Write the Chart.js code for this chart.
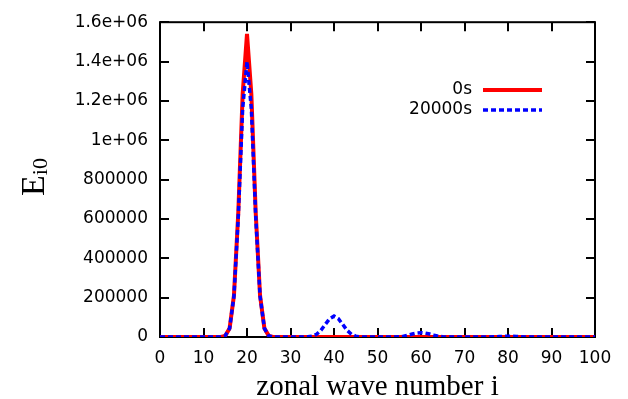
<!DOCTYPE html>
<html>
<head>
<meta charset="utf-8">
<script src="https://cdn.jsdelivr.net/npm/chart.js@4.4.1/dist/chart.umd.min.js"></script>
<style>
  html, body { margin: 0; padding: 0; background: #fff; }
  #wrap { width: 628px; height: 399px; }
</style>
</head>
<body>
<div id="wrap"><canvas id="spectrum" width="628" height="399"></canvas></div>
<script>
// zonal wave number i
const waveNumbers = [
  0, 1, 2, 3, 4, 5, 6, 7, 8, 9,
  10, 11, 12, 13, 14, 15, 16, 17, 18, 19,
  20, 21, 22, 23, 24, 25, 26, 27, 28, 29,
  30, 31, 32, 33, 34, 35, 36, 37, 38, 39,
  40, 41, 42, 43, 44, 45, 46, 47, 48, 49,
  50, 51, 52, 53, 54, 55, 56, 57, 58, 59,
  60, 61, 62, 63, 64, 65, 66, 67, 68, 69,
  70, 71, 72, 73, 74, 75, 76, 77, 78, 79,
  80, 81, 82, 83, 84, 85, 86, 87, 88, 89,
  90, 91, 92, 93, 94, 95, 96, 97, 98, 99,
  100
];

// E_i0 at t = 0s
const energy0s = [
  0, 0, 0, 0, 0, 0, 0, 0, 0, 0,
  0, 0, 0, 0, 0, 6000, 44000, 211000, 633000, 1234000,
  1540000, 1234000, 633000, 211000, 44000, 6000, 0, 0, 0, 0,
  0, 0, 0, 0, 0, 0, 0, 0, 0, 0,
  0, 0, 0, 0, 0, 0, 0, 0, 0, 0,
  0, 0, 0, 0, 0, 0, 0, 0, 0, 0,
  0, 0, 0, 0, 0, 0, 0, 0, 0, 0,
  0, 0, 0, 0, 0, 0, 0, 0, 0, 0,
  0, 0, 0, 0, 0, 0, 0, 0, 0, 0,
  0, 0, 0, 0, 0, 0, 0, 0, 0, 0,
  0
];

// E_i0 at t = 20000s
const energy20000s = [
  0, 0, 0, 0, 0, 0, 0, 0, 0, 0,
  0, 0, 0, 0, 0, 6000, 44000, 208000, 615000, 1160000,
  1400000, 1160000, 615000, 208000, 44000, 6000, 0, 0, 0, 0,
  0, 0, 0, 0, 1000, 4500, 14000, 34000, 64000, 93000,
  106000, 93000, 64000, 34000, 14000, 4500, 1000, 0, 0, 0,
  0, 0, 0, 0, 0, 1000, 4000, 9000, 15000, 20000,
  22000, 20000, 15000, 9000, 4000, 1000, 0, 0, 0, 0,
  0, 0, 0, 0, 0, 0, 0, 1000, 2500, 3500,
  4000, 3500, 2500, 1000, 0, 0, 0, 0, 0, 0,
  0, 0, 0, 0, 0, 0, 0, 0, 0, 0,
  0
];

const seriesLabels = ['0s', '20000s'];
const xTicks = [0, 10, 20, 30, 40, 50, 60, 70, 80, 90, 100];
const yTicks = [0, 200000, 400000, 600000, 800000, 1000000, 1200000, 1400000, 1600000];

const tickFont = { family: 'DejaVu Sans', size: 17 };

function toPoints(values) {
    return waveNumbers.map((i, k) => ({ x: i, y: values[k] }));
}

// gnuplot style: inward ticks on all four sides, drawn under the data
const framePlugin = {
    id: 'frame',
    beforeDatasetsDraw(chart) {
        const { ctx, chartArea: a, scales: { x, y } } = chart;
        ctx.save();
        ctx.strokeStyle = '#000';
        ctx.lineWidth = 2;
        ctx.strokeRect(a.left, a.top, a.right - a.left, a.bottom - a.top);
        ctx.beginPath();
        x.ticks.forEach(t => {
            const px = Math.round(x.getPixelForValue(t.value));
            ctx.moveTo(px, a.bottom); ctx.lineTo(px, a.bottom - 9);
            ctx.moveTo(px, a.top); ctx.lineTo(px, a.top + 9);
        });
        y.ticks.forEach(t => {
            const py = Math.round(y.getPixelForValue(t.value));
            ctx.moveTo(a.left, py); ctx.lineTo(a.left + 9, py);
            ctx.moveTo(a.right, py); ctx.lineTo(a.right - 9, py);
        });
        ctx.stroke();
        ctx.restore();
    }
};

// y title E_i0 with a real subscript, plus the key in the upper right
const labelPlugin = {
    id: 'labels',
    afterDraw(chart) {
        const ctx = chart.ctx;
        ctx.save();
        ctx.fillStyle = '#000';
        ctx.translate(44, 196);
        ctx.rotate(-Math.PI / 2);
        ctx.textAlign = 'left';
        ctx.textBaseline = 'alphabetic';
        ctx.font = '34px "Liberation Serif"';
        ctx.fillText('E', 0, 0);
        const w = ctx.measureText('E').width;
        ctx.font = '22px "Liberation Serif"';
        ctx.fillText('i0', w, 3);
        ctx.restore();

        ctx.save();
        ctx.font = '17px "DejaVu Sans"';
        ctx.textAlign = 'right';
        ctx.textBaseline = 'middle';
        chart.data.datasets.forEach((ds, k) => {
            const yy = 90 + k * 20;
            ctx.fillStyle = '#000';
            ctx.fillText(ds.label, 472, yy);
            ctx.strokeStyle = ds.borderColor;
            ctx.lineWidth = ds.borderWidth;
            ctx.setLineDash(ds.borderDash || []);
            ctx.beginPath();
            ctx.moveTo(483, yy);
            ctx.lineTo(542, yy);
            ctx.stroke();
        });
        ctx.restore();
    }
};

new Chart(document.getElementById('spectrum'), {
    type: 'line',
    data: {
        datasets: [{
            label: seriesLabels[0],
            data: toPoints(energy0s),
            borderColor: '#ff0000',
            borderWidth: 4,
            pointRadius: 0,
            tension: 0,
            order: 1
        }, {
            label: seriesLabels[1],
            data: toPoints(energy20000s),
            borderColor: '#0000ff',
            borderWidth: 3.5,
            borderDash: [5, 3],
            pointRadius: 0,
            tension: 0,
            order: 0
        }]
    },
    options: {
        responsive: false,
        animation: false,
        devicePixelRatio: 1,
        layout: { padding: { left: 0, right: 33, top: 20, bottom: 0 } },
        plugins: { legend: { display: false }, tooltip: { enabled: false } },
        scales: {
            x: {
                type: 'linear',
                min: 0,
                max: 100,
                afterBuildTicks: s => { s.ticks = xTicks.map(v => ({ value: v })); },
                afterFit: s => { s.height = 62; },
                grid: { display: false, drawTicks: false },
                border: { display: false },
                ticks: { color: '#000', font: tickFont, padding: 11, maxRotation: 0 },
                title: {
                    display: true,
                    text: 'zonal wave number i',
                    color: '#000',
                    font: { family: 'Liberation Serif', size: 29, lineHeight: 0.8 },
                    padding: 0
                }
            },
            y: {
                min: 0,
                max: 1600000,
                afterBuildTicks: s => { s.ticks = yTicks.map(v => ({ value: v })); },
                afterFit: s => { s.width = 160; },
                grid: { display: false, drawTicks: false },
                border: { display: false },
                ticks: {
                    color: '#000',
                    font: tickFont,
                    padding: 12,
                    callback: v => v >= 1000000 ? (v / 1000000) + 'e+06' : String(v)
                }
            }
        }
    },
    plugins: [framePlugin, labelPlugin]
});
</script>
</body>
</html>
